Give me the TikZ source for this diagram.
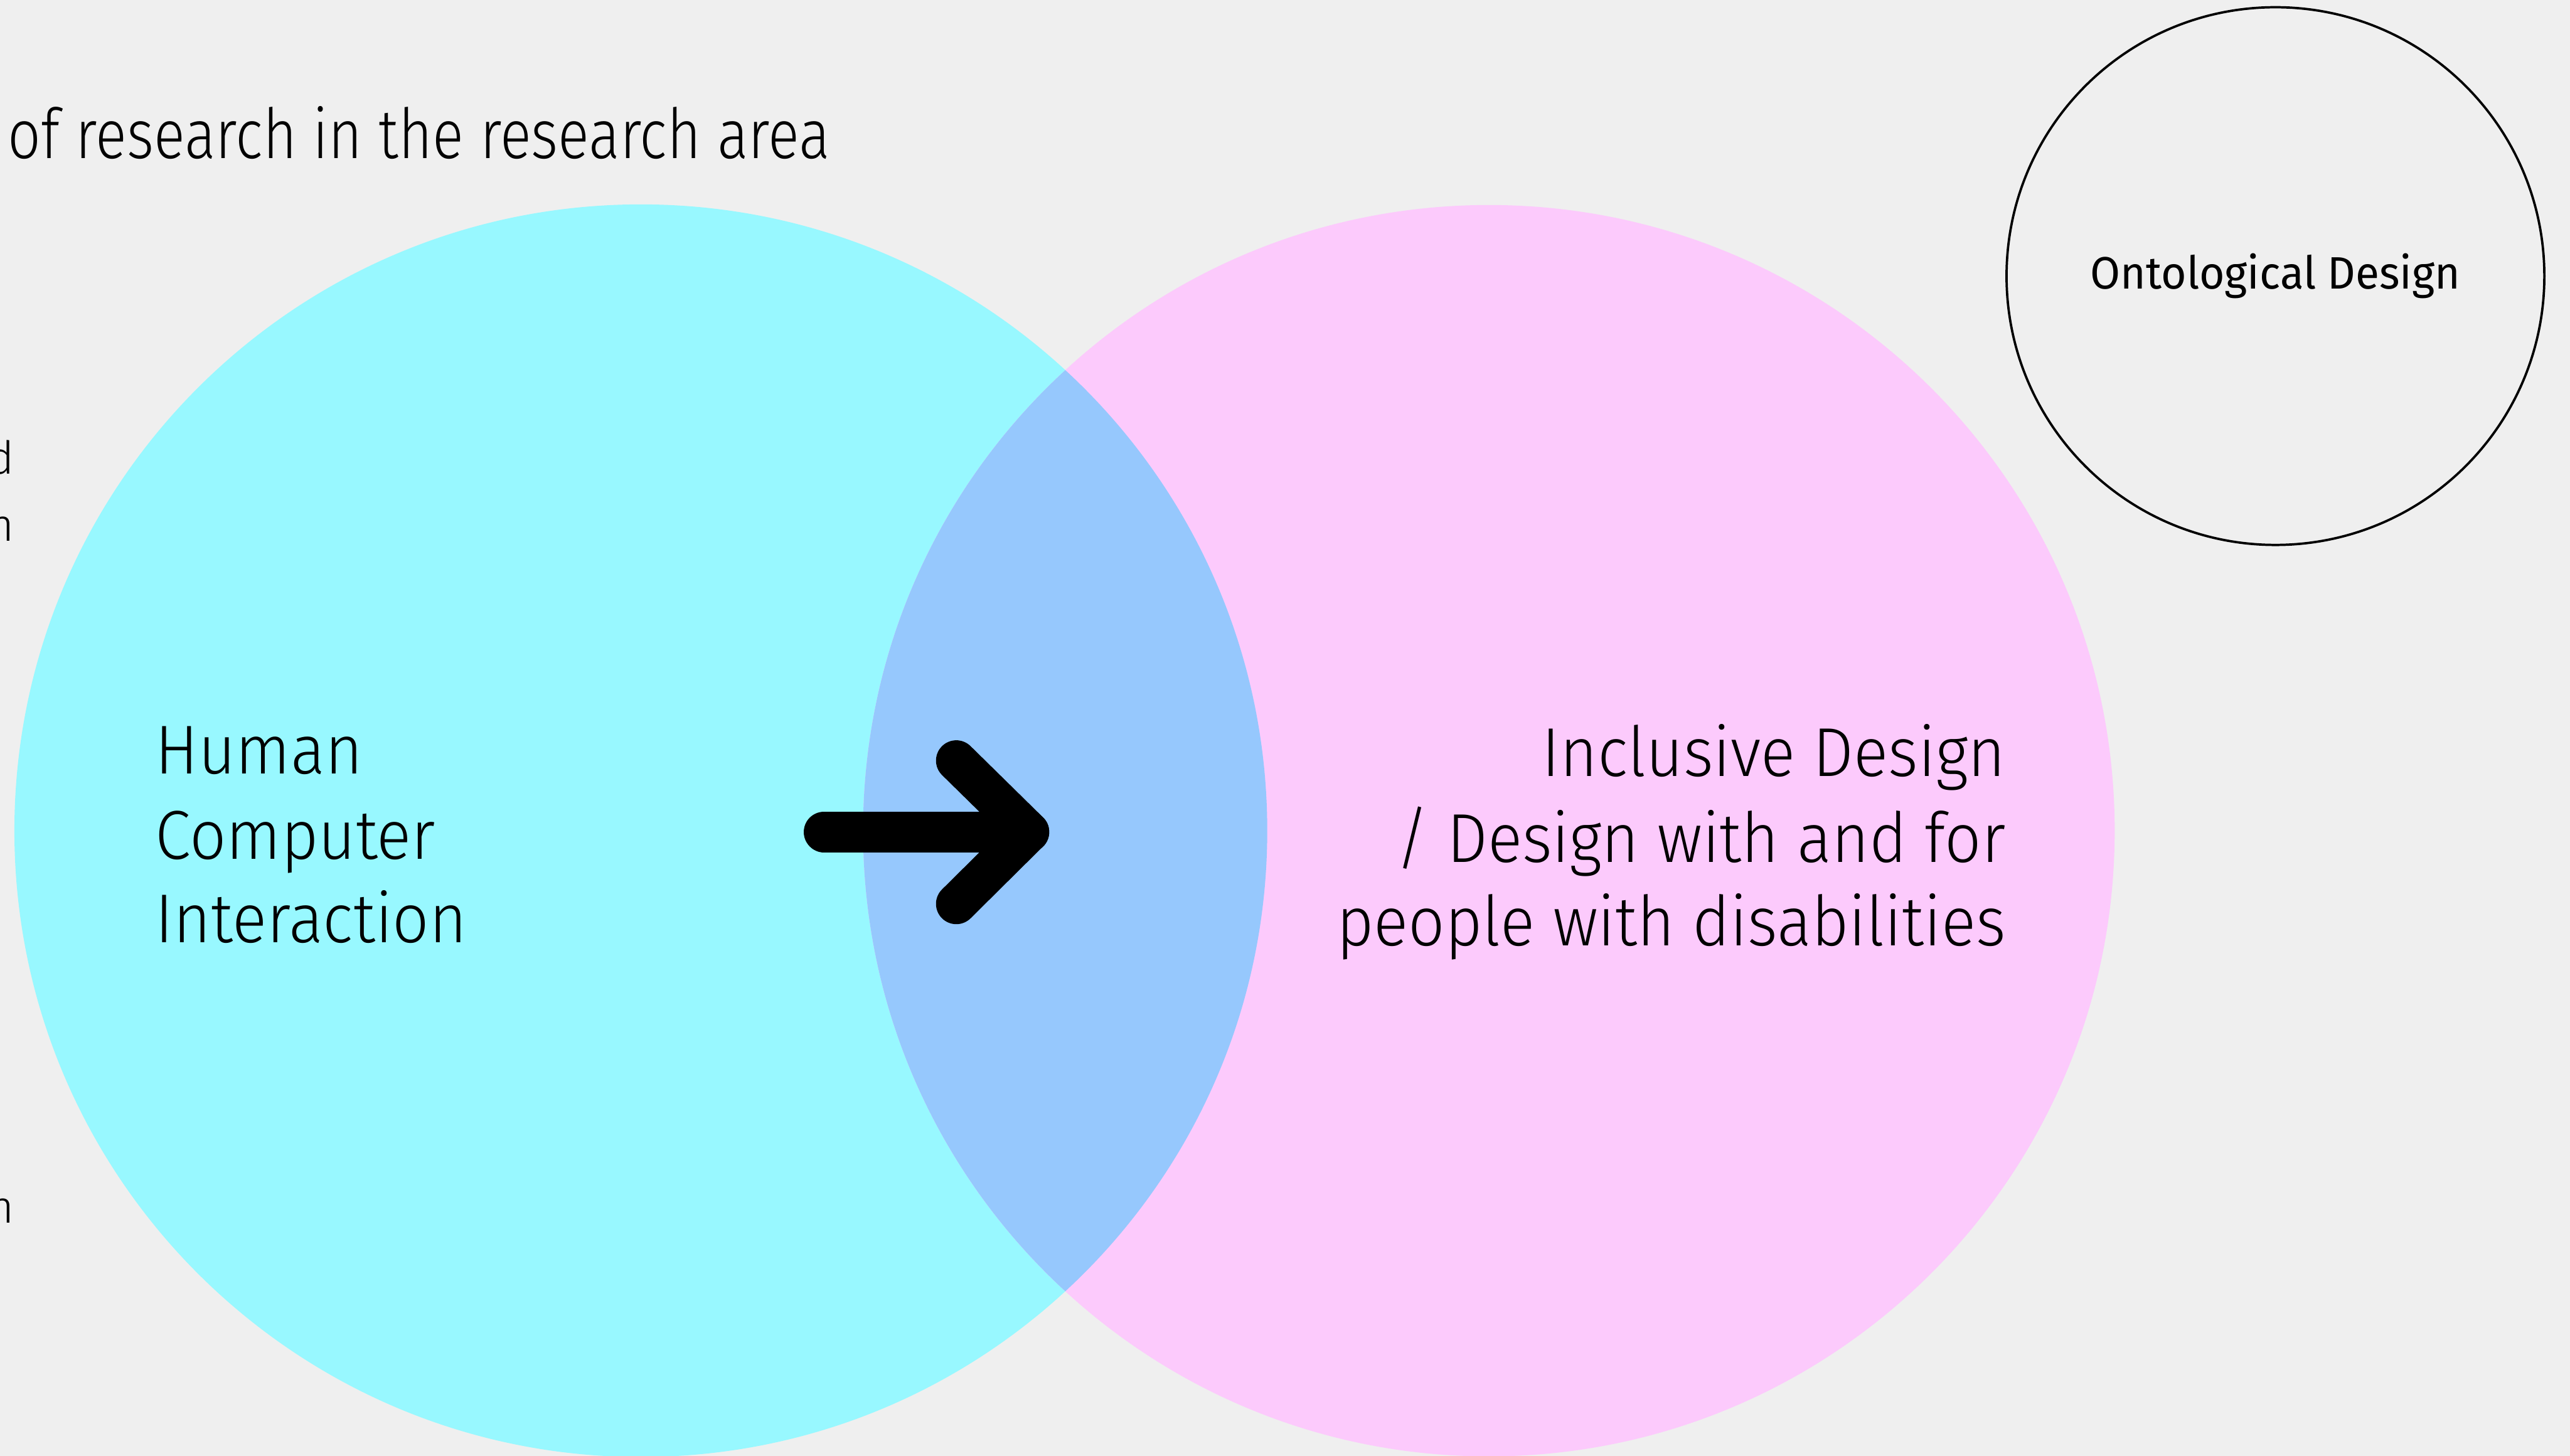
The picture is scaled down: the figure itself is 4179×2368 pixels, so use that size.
\documentclass[tikz,border=0pt]{standalone}
\usepackage{fontspec}
\setmainfont{Fira Sans}[UprightFont=* Light]
\newfontfamily\labelfont{Fira Sans}[FakeStretch=0.96]
\newfontfamily\bodyfont{Fira Sans}[UprightFont=* Light, FakeStretch=0.93]
\newfontfamily\headfont{Fira Sans}[UprightFont=* Light, FakeStretch=0.84]
\definecolor{paper}{HTML}{EFEFEF}
\definecolor{hcicyan}{HTML}{98F8FF}
\definecolor{idpink}{HTML}{FCCAFC}
\definecolor{overlapblue}{HTML}{96C8FD}
\tikzset{
  bigtext/.style={inner sep=0pt, font=\bodyfont\fontsize{32}{38}\selectfont},
  headtext/.style={inner sep=0pt, font=\headfont\fontsize{32}{38}\selectfont},
  smalltext/.style={inner sep=0pt, font=\fontsize{21}{25}\selectfont},
  ontotext/.style={inner sep=0pt, font=\labelfont\fontsize{21}{25}\selectfont},
  arrowstroke/.style={line width=0.66cm, line cap=round, line join=round, black},
}
\begin{document}
\begin{tikzpicture}[x=0.01cm, y=-0.01cm]
  \useasboundingbox (0,0) rectangle (4179,2368);
  \fill[paper] (0,0) rectangle (4179,2368);

  % the two overlapping areas
  \coordinate (hci) at (1042,1351);
  \coordinate (incl) at (2421,1351);
  \fill[hcicyan] (hci) circle[radius=10.18cm];
  \fill[idpink] (incl) circle[radius=10.17cm];
  \begin{scope}
    \clip (hci) circle[radius=10.18cm];
    \fill[overlapblue] (incl) circle[radius=10.17cm];
  \end{scope}

  % outlined circle, top right
  \coordinate (onto) at (3700,449);
  \draw[line width=0.038cm] (onto) circle[radius=4.37cm];
  \node[ontotext, anchor=base] (ontolabel) at (3700,470) {Ontological Design};

  % heading and cut-off words on the left edge
  \node[headtext, anchor=base west] (heading) at (12,258) {of research in the research area};
  \node[smalltext, anchor=base east] (fragA) at (24,771) {d};
  \node[smalltext, anchor=base east] (fragB) at (24,880) {n};
  \node[smalltext, anchor=base east] (fragC) at (24,1989) {n};

  % circle labels
  \node[bigtext, anchor=base west] (hciA) at (252,1258) {Human};
  \node[bigtext, anchor=base west] (hciB) at (252,1397) {Computer};
  \node[bigtext, anchor=base west] (hciC) at (252,1533) {Interaction};
  \node[bigtext, anchor=base east] (inclA) at (3262,1263) {Inclusive Design};
  \node[bigtext, anchor=base east] (inclB) at (3262,1402) {/ Design with and for};
  \node[bigtext, anchor=base east] (inclC) at (3262,1538) {people with disabilities};

  % arrow into the overlap
  \coordinate (tail) at (1340,1353);
  \coordinate (tip) at (1673,1353);
  \coordinate (barbup) at (1555,1237);
  \coordinate (barbdown) at (1555,1470);
  \draw[arrowstroke] (tail) -- (tip);
  \draw[arrowstroke] (barbup) -- (tip) -- (barbdown);
\end{tikzpicture}
\end{document}
